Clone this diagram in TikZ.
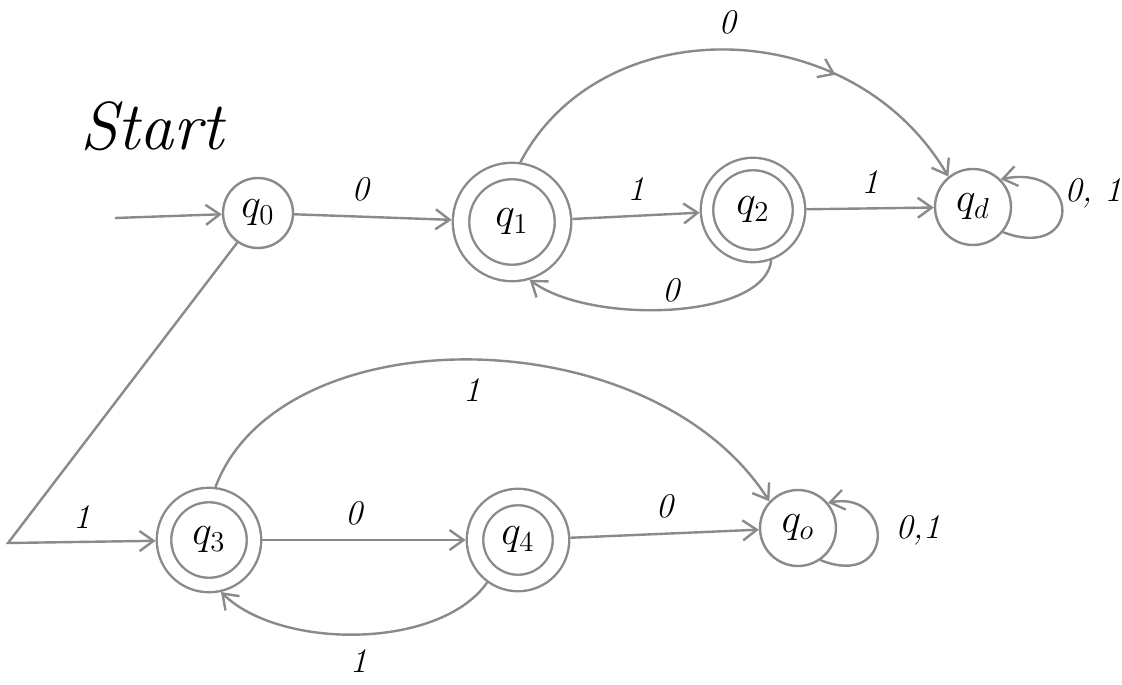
\documentclass[tikz,border=0pt]{standalone}
\usetikzlibrary{arrows.meta,decorations.markings}
\definecolor{ink}{HTML}{8A8A8A}
\begin{document}
\begin{tikzpicture}[x=0.5pt,y=-0.5pt,
  edge/.style={draw=ink, line width=1.2pt, -{Straight Barb[length=7pt,width=10pt]}},
  st/.style={circle, draw=ink, line width=1.2pt, inner sep=0pt, font=\huge},
  acc/.style={st, double=white, double distance=#1},
  lbl/.style={font=\LARGE\itshape, inner sep=1pt},
  midarrow/.style={postaction={decorate}, decoration={markings, mark=at position #1 with {\arrow[ink, line width=1.2pt]{Straight Barb[length=7pt,width=10pt]}}}},
]
\fill[white] (0,0) rectangle (1122,684);
\useasboundingbox (0,0) rectangle (1122,684);

\node[font=\fontsize{34}{34}\selectfont\itshape] (start) at (152,126) {Start};

\node[st, minimum size=35pt] (q0) at (258,213) {$q_0$};
\node[acc=7pt, minimum size=51pt, outer sep=4.7pt] (q1) at (512,222) {$q_1$};
\node[acc=5pt, minimum size=46pt, outer sep=3.7pt] (q2) at (753,210) {$q_2$};
\node[st, minimum size=38pt] (qd) at (973,207) {$q_d$};
\node[acc=6pt, minimum size=45pt, outer sep=4.2pt] (q3) at (209,540) {$q_3$};
\node[acc=7pt, minimum size=43pt, outer sep=4.7pt] (q4) at (518,540) {$q_4$};
\node[st, minimum size=38pt] (qo) at (798,528) {$q_o$};

\coordinate (s) at (115,218);
\coordinate (c) at (8,543);

\draw[edge] (s) -- (q0);
\draw[edge] (q0) -- node[lbl, pos=0.42, above=6pt]{0} (q1);
\draw[edge] (q1) -- node[lbl, above=6pt]{1} (q2);
\draw[edge] (q2) -- node[lbl, above=6pt]{1} (qd);
\draw[edge] (q2.-70) .. controls (765,320) and (590,325) .. node[lbl, above=2pt]{0} (q1.-73);
\draw[edge, midarrow=0.7] (q1.82) .. controls (600,10) and (850,10) .. node[lbl, above=6pt]{0} (qd.129);
\draw[edge] (qd.-40) .. controls (1082,262) and (1082,163) .. (qd.45);
\node[lbl] (lqd) at (1093,193) {0, 1};

\draw[edge] (q0.235) -- (c) -- node[lbl, pos=0.5, above=5pt]{1} (q3);
\draw[edge] (q3) -- node[lbl, pos=0.45, above=6pt]{0} (q4);
\draw[edge] (q4.234) .. controls (440,650) and (280,650) .. node[lbl, below=6pt]{1} (q3.-77);
\draw[edge] (q4) -- node[lbl, above=6pt]{0} (qo);
\draw[edge] (q3.83) .. controls (280,315) and (650,315) .. node[lbl, below=8pt]{1} (qo.137);
\draw[edge] (qo.-55) .. controls (895,590) and (895,490) .. (qo.40);
\node[lbl] (lqo) at (918,530) {0,1};
\end{tikzpicture}
\end{document}
